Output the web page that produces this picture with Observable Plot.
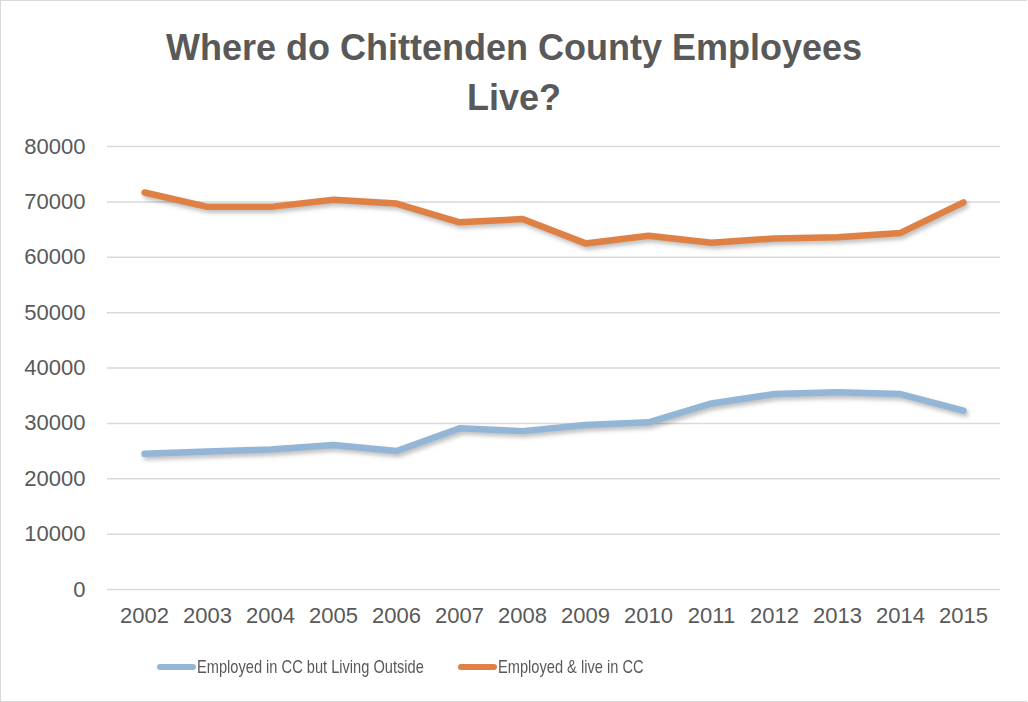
<!DOCTYPE html>
<html>
<head>
<meta charset="utf-8">
<script src="https://cdn.jsdelivr.net/npm/d3@7"></script>
<script src="https://cdn.jsdelivr.net/npm/@observablehq/plot@0.6"></script>
<style>
  html, body { margin: 0; padding: 0; background: #fff; }
  #frame { position: relative; width: 1026px; height: 700px; border: 1px solid #d9d9d9; border-right: none; overflow: hidden; font-family: "Liberation Sans", Arial, sans-serif; color: #595959; }
  #title { height: 125px; box-sizing: border-box; padding-top: 22px; text-align: center; font-weight: bold; font-size: 36px; line-height: 50px; color: #595959; }
  #chart svg { display: block; }
  #chart g[aria-label="line"] path { filter: drop-shadow(2px 3px 2px rgba(0,0,0,0.25)); }
  #legend { position: absolute; top: 652px; left: 0; width: 1026px; height: 28px; }
  .li { position: absolute; top: 0; display: flex; align-items: center; font-family: "Liberation Sans", Arial, sans-serif; font-size: 19px; color: #595959; height: 28px; white-space: nowrap; }
  .li span { display: inline-block; transform: scaleX(0.77); transform-origin: 0 50%; }
  .sw { width: 39px; height: 6px; border-radius: 3px; margin-right: 1px; }
</style>
</head>
<body>
<div id="frame">
  <div id="title">Where do Chittenden County Employees<br>Live?</div>
  <div id="chart"></div>
  <div id="legend"></div>
</div>
<script>
const years = ["2002","2003","2004","2005","2006","2007","2008","2009","2010","2011","2012","2013","2014","2015"];
const seriesNames = ["Employed in CC but Living Outside", "Employed & live in CC"];
const livingOutside = [24500, 24900, 25300, 26100, 25000, 29100, 28600, 29700, 30200, 33600, 35300, 35600, 35300, 32300];
const liveInCC = [71700, 69100, 69100, 70400, 69700, 66300, 66900, 62500, 63900, 62600, 63400, 63600, 64400, 69900];
const seriesColors = ["#93B6D6", "#DF8144"];
const yTicks = [0, 10000, 20000, 30000, 40000, 50000, 60000, 70000, 80000];

const data = [];
years.forEach((y, i) => {
  data.push({year: y, value: livingOutside[i], series: seriesNames[0]});
  data.push({year: y, value: liveInCC[i], series: seriesNames[1]});
});

const chart = Plot.plot({
  width: 1026,
  height: 515,
  marginTop: 20,
  marginBottom: 52,
  marginLeft: 106,
  marginRight: 27,
  style: {fontFamily: "Liberation Sans, Arial, sans-serif", fontSize: "22px", color: "#595959", background: "#fff"},
  x: {type: "point", domain: years, padding: 0.5, label: null},
  y: {domain: [0, 80000], label: null},
  color: {domain: seriesNames, range: seriesColors},
  marks: [
    Plot.ruleY(yTicks, {stroke: "#d9d9d9", strokeWidth: 1.5}),
    Plot.axisY({ticks: yTicks, tickSize: 0, tickPadding: 22, tickFormat: d => String(d), fill: "#595959", label: null}),
    Plot.axisX({tickSize: 0, tickPadding: 18, fill: "#595959", label: null}),
    Plot.line(data, {x: "year", y: "value", z: "series", stroke: "series", strokeWidth: 6.5, strokeLinecap: "round", strokeLinejoin: "round"})
  ]
});
document.getElementById("chart").appendChild(chart);

const legend = document.getElementById("legend");
const lefts = [156, 457];
seriesNames.forEach((name, i) => {
  const item = document.createElement("div");
  item.className = "li";
  item.style.left = lefts[i] + "px";
  const sw = document.createElement("div");
  sw.className = "sw";
  sw.style.background = seriesColors[i];
  const t = document.createElement("span");
  t.textContent = name;
  item.appendChild(sw);
  item.appendChild(t);
  legend.appendChild(item);
});
</script>
</body>
</html>
